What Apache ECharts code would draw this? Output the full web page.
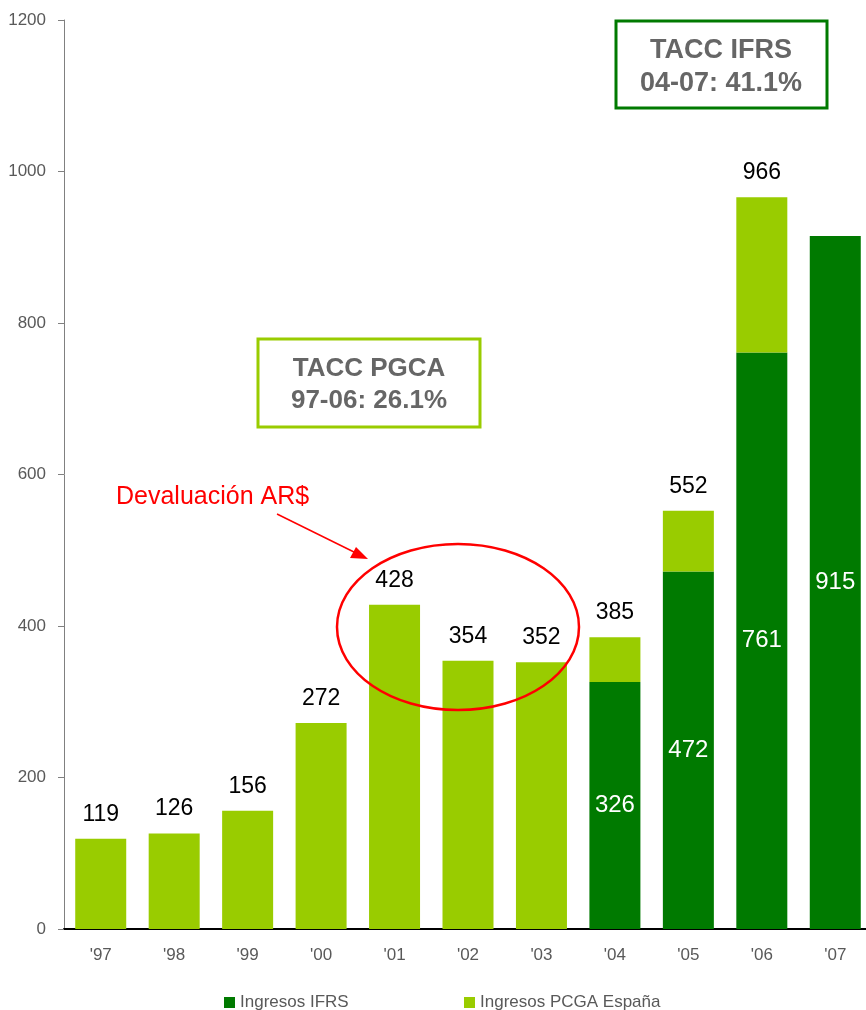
<!DOCTYPE html>
<html>
<head>
<meta charset="utf-8">
<script src="https://cdn.jsdelivr.net/npm/echarts@6/dist/echarts.min.js"></script>
<style>
html,body{margin:0;padding:0;background:#fff;}
#main{width:866px;height:1010px;}
</style>
</head>
<body>
<div id="main"></div>
<script>
// años
var years = ["'97", "'98", "'99", "'00", "'01", "'02", "'03", "'04", "'05", "'06", "'07"];
// Ingresos IFRS (verde oscuro)
var ifrs = [null, null, null, null, null, null, null, 326, 472, 761, 915];
// Ingresos PCGA España (parte por encima de IFRS)
var pcga = [119, 126, 156, 272, 428, 354, 352, 59, 80, 205, null];
// totales mostrados encima de la barra
var totals = [119, 126, 156, 272, 428, 354, 352, 385, 552, 966, 915];

var DARK = '#007A00';
var LIGHT = '#99CC00';
var FONT = 'Liberation Sans, Arial, sans-serif';

var myChart = echarts.init(document.getElementById('main'));

var legendText = {color: '#595959', fontSize: 17, fontFamily: FONT};

var option = {
    animation: false,
    textStyle: {fontFamily: FONT},
    grid: {left: 64, top: 20, width: 808, height: 909, outerBoundsMode: 'none', containLabel: false},
    legend: [
        {left: 219, top: 989, icon: 'rect', itemWidth: 11, itemHeight: 11,
         textStyle: legendText, data: ['Ingresos IFRS']},
        {left: 459, top: 989, icon: 'rect', itemWidth: 11, itemHeight: 11,
         textStyle: legendText, data: ['Ingresos PCGA España']}
    ],
    xAxis: {
        type: 'category', data: years,
        axisLine: {lineStyle: {color: '#000', width: 2}},
        axisTick: {show: false},
        axisLabel: {color: '#595959', fontSize: 17, margin: 18}
    },
    yAxis: {
        type: 'value', min: 0, max: 1200, interval: 200,
        axisLine: {show: true, lineStyle: {color: '#808080', width: 1}},
        axisTick: {show: true, length: 6, lineStyle: {color: '#808080'}},
        splitLine: {show: false},
        axisLabel: {color: '#595959', fontSize: 17, margin: 18,
            formatter: function (v) { return String(v); }}
    },
    series: [
        {
            name: 'Ingresos IFRS', type: 'bar', stack: 'ing',
            barWidth: 51, itemStyle: {color: DARK},
            label: {show: true, position: 'inside', color: '#fff', fontSize: 24, fontFamily: FONT},
            data: ifrs
        },
        {
            name: 'Ingresos PCGA España', type: 'bar', stack: 'ing',
            barWidth: 51, itemStyle: {color: LIGHT},
            label: {
                show: true, position: 'top', distance: 13, color: '#000', fontSize: 23, fontFamily: FONT,
                formatter: function (p) { return totals[p.dataIndex]; }
            },
            data: pcga
        }
    ],
    graphic: [
        {type: 'rect', shape: {x: 616, y: 21, width: 211, height: 87},
         style: {fill: '#fff', stroke: DARK, lineWidth: 3}},
        {type: 'text', x: 721, y: 67, style: {text: 'TACC IFRS\n04-07: 41.1%', fill: '#666', font: 'bold 27px ' + FONT,
         textAlign: 'center', textVerticalAlign: 'middle', lineHeight: 33}},
        {type: 'rect', shape: {x: 258, y: 339, width: 222, height: 88},
         style: {fill: '#fff', stroke: LIGHT, lineWidth: 3}},
        {type: 'text', x: 369, y: 385, style: {text: 'TACC PGCA\n97-06: 26.1%', fill: '#666', font: 'bold 26px ' + FONT,
         textAlign: 'center', textVerticalAlign: 'middle', lineHeight: 32}},
        {type: 'text', x: 116, y: 497, style: {text: 'Devaluación AR$', fill: '#f00', font: '25px ' + FONT,
         textVerticalAlign: 'middle'}},
        {type: 'line', shape: {x1: 277, y1: 514, x2: 358, y2: 554}, style: {stroke: '#f00', lineWidth: 1.5}},
        {type: 'polygon', shape: {points: [[368, 559], [350, 558], [356, 547]]}, style: {fill: '#f00'}},
        {type: 'ellipse', shape: {cx: 458, cy: 627, rx: 121, ry: 83},
         style: {fill: 'none', stroke: '#f00', lineWidth: 2.5}, z: 100}
    ]
};
myChart.setOption(option);
</script>
</body>
</html>
